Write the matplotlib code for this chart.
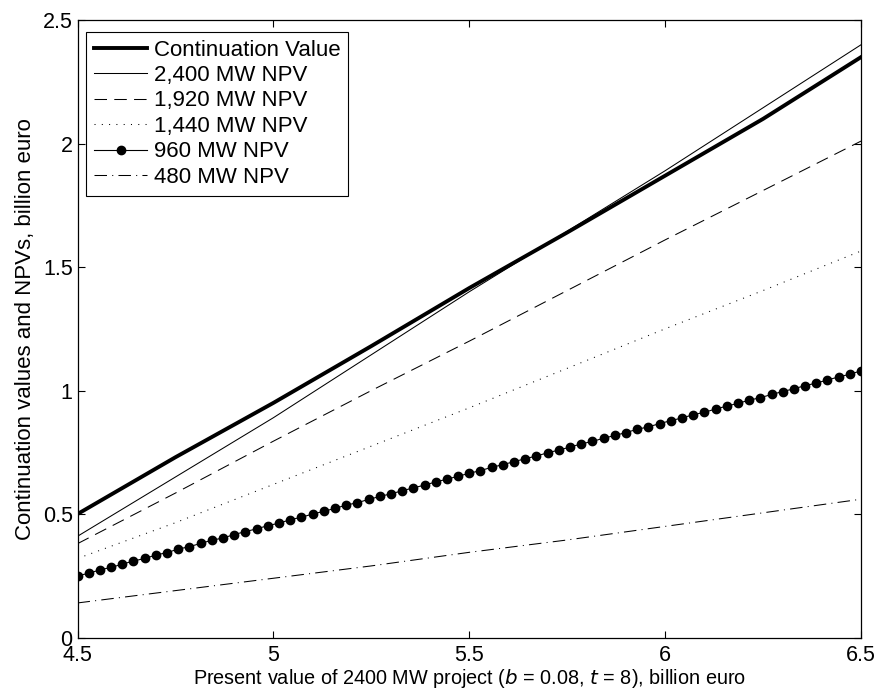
import numpy as np
import matplotlib
matplotlib.use('Agg')
from matplotlib import pyplot as plt

plt.rcParams['font.family'] = ['Liberation Sans', 'DejaVu Sans']

# present value grid (billion euro)
pv = [4.5, 4.75, 5.0, 5.25, 5.5, 5.75, 6.0, 6.25, 6.5]

contValue = [0.50, 0.73, 0.95, 1.18, 1.415, 1.64, 1.87, 2.10, 2.35]
npv2400 = [0.41, 0.65, 0.89, 1.145, 1.40, 1.645, 1.89, 2.145, 2.40]
npv1920 = [0.38, 0.585, 0.795, 1.00, 1.20, 1.405, 1.61, 1.81, 2.01]
npv1440 = [0.32, 0.465, 0.62, 0.775, 0.93, 1.09, 1.25, 1.405, 1.565]
npv480 = [0.14, 0.19, 0.24, 0.29, 0.345, 0.395, 0.45, 0.505, 0.56]

# 960 MW case was evaluated on a finer grid
pvFine = np.linspace(4.5, 6.5, 71)
npv960 = [0.250, 0.260, 0.274, 0.284, 0.297, 0.310, 0.320, 0.334, 0.344, 0.358,
          0.368, 0.381, 0.394, 0.403, 0.417, 0.429, 0.440, 0.453, 0.463, 0.477,
          0.487, 0.500, 0.511, 0.523, 0.536, 0.546, 0.559, 0.571, 0.582, 0.594,
          0.606, 0.617, 0.630, 0.641, 0.653, 0.665, 0.676, 0.689, 0.700, 0.712,
          0.724, 0.735, 0.748, 0.759, 0.771, 0.784, 0.794, 0.807, 0.818, 0.830,
          0.843, 0.853, 0.866, 0.878, 0.889, 0.902, 0.912, 0.925, 0.937, 0.948,
          0.961, 0.971, 0.984, 0.996, 1.007, 1.020, 1.030, 1.043, 1.055, 1.066,
          1.080]

fig = plt.figure(figsize=(8.78, 6.89), dpi=100)
ax = fig.add_axes([0.0883, 0.0747, 0.8924, 0.8962])

ax.plot(pv, contValue, color='k', lw=2.8, label='Continuation Value')
ax.plot(pv, npv2400, color='k', lw=0.75, label='2,400 MW NPV')
ax.plot(pv, npv1920, color='k', lw=0.75, dashes=(12, 7), label='1,920 MW NPV')
ax.plot(pv, npv1440, color='k', lw=0.75, dashes=(1, 6), label='1,440 MW NPV')
ax.plot(pvFine, npv960, color='k', lw=0.8, marker='o', ms=6, label='960 MW NPV')
ax.plot(pv, npv480, color='k', lw=0.75, dashes=(12, 5, 1, 5), label='480 MW NPV')

ax.set_xlim(4.5, 6.5)
ax.set_ylim(0, 2.5)
ax.set_xticks([4.5, 5, 5.5, 6, 6.5])
ax.set_xticklabels(['4.5', '5', '5.5', '6', '6.5'])
ax.set_yticks([0, 0.5, 1, 1.5, 2, 2.5])
ax.set_yticklabels(['0', '0.5', '1', '1.5', '2', '2.5'])
ax.tick_params(direction='in', top=True, right=True, length=5, width=0.8,
               labelsize=15.5)
ax.tick_params(axis='x', pad=5.5)
ax.tick_params(axis='y', pad=3.5)
for s in ax.spines.values():
    s.set_linewidth(0.9)

ax.set_xlabel('Present value of 2400 MW project ($b$ = 0.08, $t$ = 8), billion euro',
              fontsize=14.3, labelpad=0.5)
ax.set_ylabel('Continuation values and NPVs, billion euro', fontsize=16, labelpad=5)

leg = ax.legend(loc='upper left', bbox_to_anchor=(0.011, 0.981), borderaxespad=0,
                fontsize=16, fancybox=False, framealpha=1, edgecolor='k',
                handlelength=2.4, handletextpad=0.3, labelspacing=0.2,
                borderpad=0.35)
leg.get_frame().set_linewidth(0.8)

fig.savefig('out.png', dpi=100)
